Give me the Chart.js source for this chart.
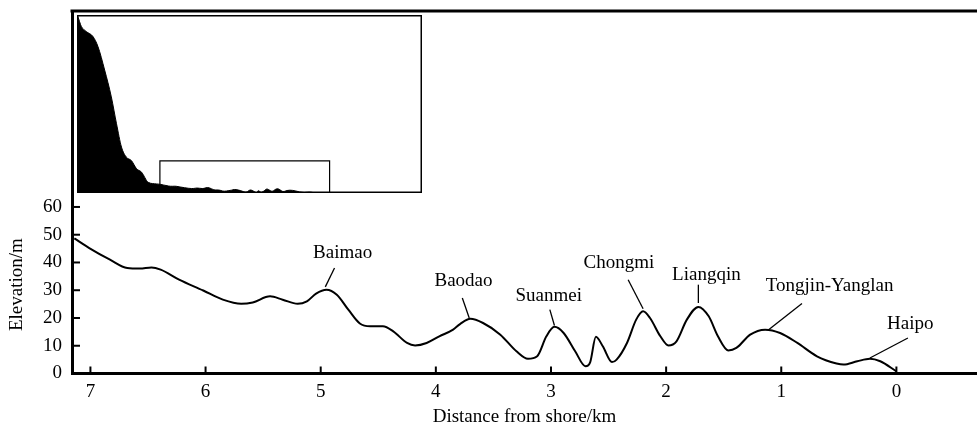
<!DOCTYPE html>
<html><head><meta charset="utf-8">
<script src="https://cdn.jsdelivr.net/npm/chart.js@4"></script>
<style>
html,body{margin:0;padding:0;background:#fff;}
#wrap{position:relative;width:977px;height:427px;overflow:hidden;}
#main{position:absolute;left:0;top:0;}
#inset{position:absolute;left:77px;top:15px;}
</style></head><body>
<div id="wrap"><canvas id="main" width="977" height="427"></canvas><canvas id="inset" width="345" height="178"></canvas></div>
<script>
// ---- main profile (distance from shore, km / elevation, m)
const distanceKm = [7.14,7.01,6.83,6.68,6.57,6.47,6.39,6.23,6.02,5.85,5.69,5.59,5.44,5.33,5.20,5.12,5.04,4.95,4.86,4.76,4.66,4.57,4.46,4.37,4.25,4.18,4.08,3.97,3.85,3.79,3.70,3.59,3.44,3.30,3.20,3.12,3.04,2.97,2.89,2.79,2.70,2.66,2.61,2.55,2.47,2.43,2.34,2.26,2.20,2.14,2.05,1.98,1.91,1.82,1.72,1.63,1.55,1.46,1.39,1.27,1.14,1.01,0.86,0.69,0.52,0.46,0.34,0.23,0.14,0.00];
const elevationM = [48.7,45.2,41.0,38.0,37.8,38.2,37.4,33.8,29.9,26.6,25.1,25.6,27.8,26.6,25.1,26.0,28.8,30.2,28.4,23.0,18.0,17.0,17.0,15.2,11.0,10.1,11.0,13.4,15.8,17.8,19.7,18.2,14.0,8.0,5.3,6.2,13.4,16.8,14.6,8.0,2.6,4.0,13.2,9.8,4.1,5.0,11.0,19.4,22.4,20.0,13.4,10.1,11.6,19.4,24.0,20.6,13.4,8.3,9.2,14.0,15.8,14.6,11.0,6.2,3.6,3.2,4.4,5.3,4.4,0.8];
const xTickValues = [0,1,2,3,4,5,6,7];
const yTickValues = [0,10,20,30,40,50,60];
const xAxisRange = [-0.70, 7.16];
const yAxisRange = [0, 130.6];

// ---- site labels (data units)
const siteNames = ['Baimao','Baodao','Suanmei','Chongmi','Liangqin','Tongjin-Yanglan','Haipo'];
const siteTextKm = [4.81,3.76,3.02,2.41,1.65,0.58,-0.12];
const siteTextM = [43.5,33.2,27.8,39.8,35.6,31.4,17.9];
const leaderFromKm = [4.88,3.77,3.01,2.33,1.72,0.82,-0.10];
const leaderFromM = [38.0,27.2,23.0,33.8,32.0,25.2,12.8];
const leaderToKm = [4.96,3.71,2.97,2.20,1.72,1.11,0.23];
const leaderToM = [31.2,20.0,17.3,23.3,25.4,15.8,5.6];

// ---- inset: offshore part of the profile (km, m)
const offshoreKm = [11.0,10.96,10.80,10.57,10.26,10.03,9.72,9.41,9.17,8.94,8.71,8.48,8.24,8.01,7.70,7.31];
const offshoreM = [995,989,936,907,879,823,691,540,389,258,201,182,136,117,60,51];
const insetXRange = [-4.98, 11.0];
const insetYRange = [0, 1000];
const zoomBoxKm = [7.16, -0.70];
const zoomBoxTopM = 180;

const FONT = "'Liberation Serif','Times New Roman',serif";

const mainPoints = distanceKm.map((d,i)=>({x:d,y:elevationM[i]}));

const decor = {
  id:'decor',
  afterDraw(chart){
    const {ctx, chartArea:a, scales:{x,y}} = chart;
    ctx.save();
    ctx.strokeStyle='#000'; ctx.fillStyle='#000';
    // top frame line
    ctx.lineWidth=3;
    ctx.beginPath(); ctx.moveTo(a.left-1.5,a.top); ctx.lineTo(a.right,a.top); ctx.stroke();
    // inward tick marks
    ctx.lineWidth=2;
    xTickValues.forEach(v=>{const p=x.getPixelForValue(v);ctx.beginPath();ctx.moveTo(p,a.bottom);ctx.lineTo(p,a.bottom-7);ctx.stroke();});
    yTickValues.forEach(v=>{const p=y.getPixelForValue(v);ctx.beginPath();ctx.moveTo(a.left,p);ctx.lineTo(a.left+8,p);ctx.stroke();});
    // y axis title
    ctx.font='19px '+FONT; ctx.textAlign='center'; ctx.textBaseline='middle';
    ctx.save(); ctx.translate(17, y.getPixelForValue(32)); ctx.rotate(-Math.PI/2); ctx.fillText('Elevation/m',0,0); ctx.restore();
    // site labels and leaders
    ctx.lineWidth=1.3;
    siteNames.forEach((n,i)=>{
      ctx.fillText(n, x.getPixelForValue(siteTextKm[i]), y.getPixelForValue(siteTextM[i]));
      ctx.beginPath();
      ctx.moveTo(x.getPixelForValue(leaderFromKm[i]), y.getPixelForValue(leaderFromM[i]));
      ctx.lineTo(x.getPixelForValue(leaderToKm[i]), y.getPixelForValue(leaderToM[i]));
      ctx.stroke();
    });
    ctx.restore();
  }
};

const noEdgePad = s => { s.paddingTop=0; s.paddingBottom=0; s.paddingLeft=0; s.paddingRight=0; };

new Chart(document.getElementById('main'),{
  type:'line',
  data:{datasets:[{data:mainPoints,borderColor:'#000',borderWidth:2,pointRadius:0,fill:false,cubicInterpolationMode:'monotone'}]},
  options:{
    responsive:false, animation:false, devicePixelRatio:1,
    layout:{padding:{top:11,left:0,right:0,bottom:0}},
    plugins:{legend:{display:false},tooltip:{enabled:false}},
    scales:{
      x:{type:'linear',reverse:true,min:xAxisRange[0],max:xAxisRange[1],position:'bottom',
        afterBuildTicks:s=>{s.ticks=xTickValues.map(v=>({value:v}));},
        afterFit:s=>{s.height=53.5; noEdgePad(s);},
        grid:{display:false,drawTicks:false},
        border:{display:true,color:'#000',width:3},
        ticks:{color:'#000',font:{family:FONT,size:19},padding:7,maxRotation:0,autoSkip:false,callback:v=>String(v)},
        title:{display:true,text:'Distance from shore/km',color:'#000',font:{family:FONT,size:19,lineHeight:1},padding:0}
      },
      y:{type:'linear',min:yAxisRange[0],max:yAxisRange[1],
        afterBuildTicks:s=>{s.ticks=yTickValues.map(v=>({value:v}));},
        afterFit:s=>{s.width=72; noEdgePad(s);},
        grid:{display:false,drawTicks:false},
        border:{display:true,color:'#000',width:3},
        ticks:{color:'#000',font:{family:FONT,size:19},padding:10,autoSkip:false,callback:v=>String(v)}
      }
    }
  },
  plugins:[decor]
});

// ---- inset
const insetPoints = offshoreKm.map((d,i)=>({x:d,y:offshoreM[i]})).concat(mainPoints);
const boxPoints = [{x:zoomBoxKm[0],y:0},{x:zoomBoxKm[0],y:zoomBoxTopM},{x:zoomBoxKm[1],y:zoomBoxTopM},{x:zoomBoxKm[1],y:0}];
const frame = {
  id:'frame',
  afterDraw(chart){
    const {ctx,width,height}=chart;
    ctx.save(); ctx.strokeStyle='#000'; ctx.lineWidth=1.5;
    ctx.strokeRect(0.75,0.75,width-1.5,height-1.5);
    ctx.restore();
  }
};
new Chart(document.getElementById('inset'),{
  type:'line',
  data:{datasets:[
    {data:insetPoints,borderColor:'#000',backgroundColor:'#000',borderWidth:1,pointRadius:0,fill:'origin',cubicInterpolationMode:'monotone'},
    {data:boxPoints,borderColor:'#000',borderWidth:1.2,pointRadius:0,fill:false,tension:0}
  ]},
  options:{
    responsive:false, animation:false, devicePixelRatio:1,
    layout:{padding:0},
    plugins:{legend:{display:false},tooltip:{enabled:false}},
    scales:{
      x:{type:'linear',reverse:true,min:insetXRange[0],max:insetXRange[1],display:false},
      y:{type:'linear',min:insetYRange[0],max:insetYRange[1],display:false}
    }
  },
  plugins:[frame]
});
</script>
</body></html>
